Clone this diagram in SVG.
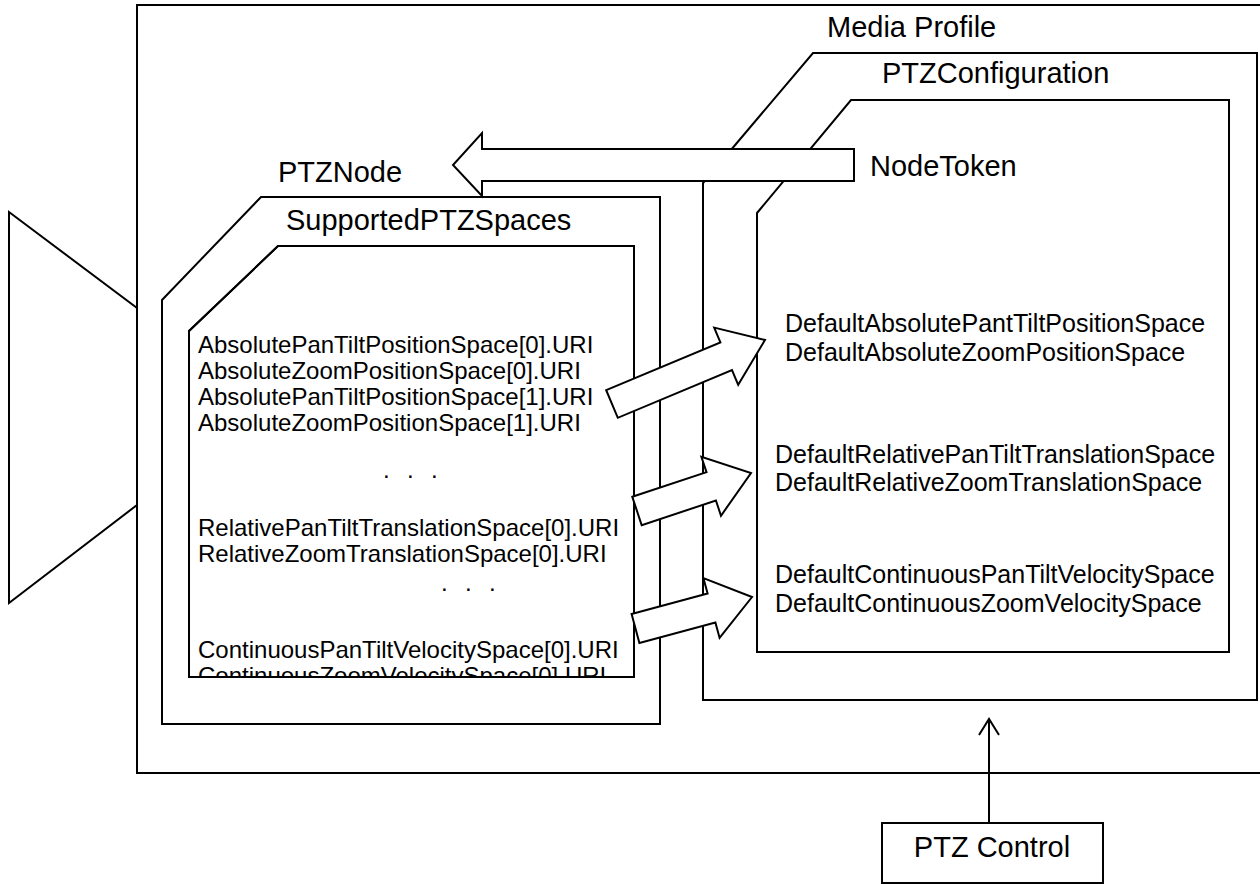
<svg xmlns="http://www.w3.org/2000/svg" width="1260" height="884" viewBox="0 0 1260 884">
<style>
.ln{fill:none;stroke:#000;stroke-width:2;stroke-linejoin:miter}
.bx{fill:#fff;stroke:#000;stroke-width:2;stroke-linejoin:miter}
.lbl{font-family:"Liberation Sans",Arial,sans-serif;font-size:29px;fill:#000}
.lst{font-family:"Liberation Sans",Arial,sans-serif;font-size:24px;fill:#000}
.def{font-family:"Liberation Sans",Arial,sans-serif;font-size:25px;fill:#000}
</style>
<defs>
<clipPath id="listclip"><rect x="189" y="246" width="445" height="431"/></clipPath>
</defs>
<rect width="1260" height="884" fill="#fff"/>

<g id="camera">
<polygon class="ln" points="9,212 137,308 137,505 9,603"/>
</g>

<g id="system">
<path class="ln" d="M1264,5 H137 V773 H1264"/>
</g>

<g id="media-profile">
<polygon class="bx" points="703,183 813,53 1257,53 1257,700 703,700"/>
<text class="lbl" x="827" y="37">Media Profile</text>
</g>

<g id="ptz-configuration">
<polygon class="bx" points="757,213 851,100 1229,100 1229,652 757,652"/>
<text class="lbl" x="882" y="83">PTZConfiguration</text>
<text class="def" x="785" y="332">DefaultAbsolutePantTiltPositionSpace</text>
<text class="def" x="785" y="361">DefaultAbsoluteZoomPositionSpace</text>
<text class="def" x="775" y="463">DefaultRelativePanTiltTranslationSpace</text>
<text class="def" x="775" y="491">DefaultRelativeZoomTranslationSpace</text>
<text class="def" x="775" y="583">DefaultContinuousPanTiltVelocitySpace</text>
<text class="def" x="775" y="612">DefaultContinuousZoomVelocitySpace</text>
</g>

<g id="ptz-node">
<polygon class="bx" points="162,300 261,197 660,197 660,724 162,724"/>
<text class="lbl" x="278" y="182">PTZNode</text>
</g>

<g id="supported-ptz-spaces">
<polygon class="bx" points="189,331 278,246 634,246 634,677 189,677"/>
<text class="lbl" x="286" y="230">SupportedPTZSpaces</text>
<g clip-path="url(#listclip)">
<text class="lst" x="198" y="353">AbsolutePanTiltPositionSpace[0].URI</text>
<text class="lst" x="198" y="379">AbsoluteZoomPositionSpace[0].URI</text>
<text class="lst" x="198" y="405">AbsolutePanTiltPositionSpace[1].URI</text>
<text class="lst" x="198" y="431">AbsoluteZoomPositionSpace[1].URI</text>
<text class="lst" x="383 407 431" y="478">...</text>
<text class="lst" x="198" y="536">RelativePanTiltTranslationSpace[0].URI</text>
<text class="lst" x="198" y="562">RelativeZoomTranslationSpace[0].URI</text>
<text class="lst" x="441 465 489" y="591">...</text>
<text class="lst" x="198" y="658">ContinuousPanTiltVelocitySpace[0].URI</text>
<text class="lst" x="198" y="684">ContinuousZoomVelocitySpace[0].URI</text>
</g>
<polygon class="ln" points="189,331 278,246 634,246 634,677 189,677"/>
</g>

<g id="ptz-control">
<rect class="bx" x="882" y="823" width="221" height="60"/>
<text class="lbl" x="992" y="857" text-anchor="middle">PTZ Control</text>
</g>

<g id="connectors">
<polygon class="bx" points="854,149 482,149 482,133 453,165 482,196 482,181 854,181"/>
<text class="lbl" x="870" y="176">NodeToken</text>
<polygon class="bx" points="606.2,390.2 720.4,342.4 714.2,327.6 765,340 738.2,384.8 732,370 617.8,417.8"/>
<polygon class="bx" points="632.3,496.8 706.5,472.1 701.4,456.9 751,473 721,515.7 715.9,500.5 641.7,525.2"/>
<polygon class="bx" points="631.6,614 707.6,593.5 703.4,578.1 752,597 719.6,637.9 715.4,622.5 639.4,643"/>
<path class="ln" d="M989,823 V719 M979,735 L989,719 L999,735"/>
</g>
</svg>
